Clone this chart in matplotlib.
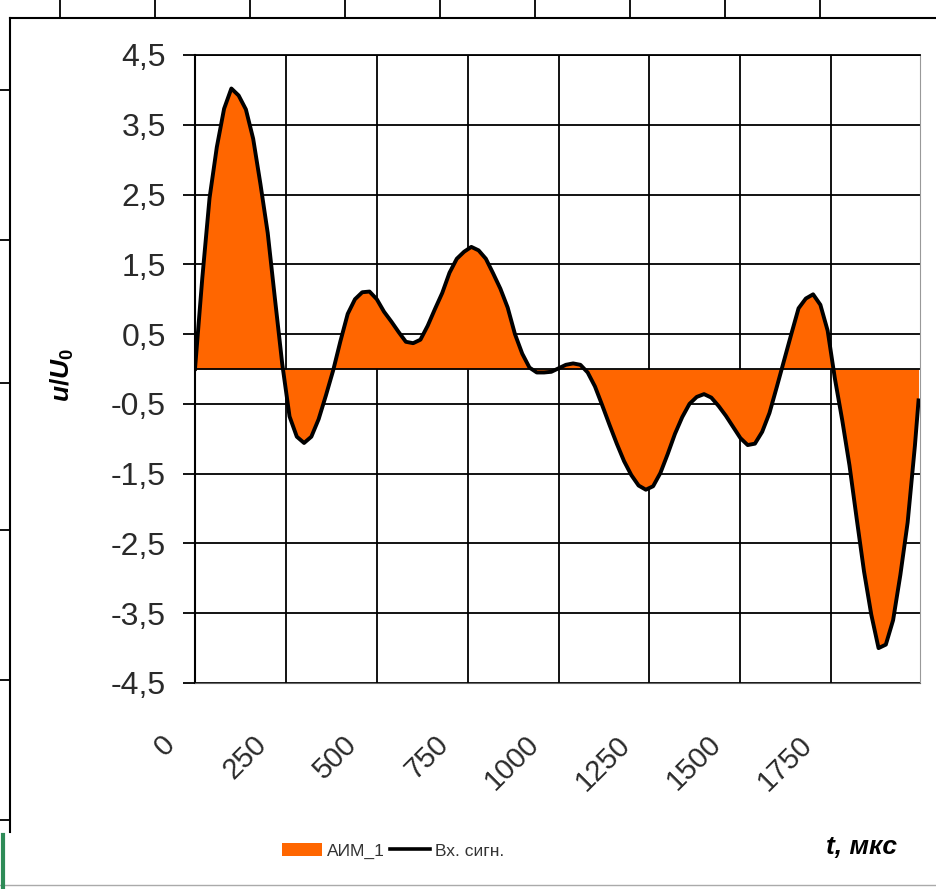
import numpy as np
import matplotlib
matplotlib.use("Agg")
import matplotlib.pyplot as plt
from matplotlib.patches import Patch
from matplotlib.lines import Line2D
import matplotlib.transforms as mtransforms

plt.rcParams['font.family'] = ['Liberation Sans', 'DejaVu Sans']
plt.rcParams['mathtext.fontset'] = 'custom'
plt.rcParams['mathtext.it'] = 'Liberation Sans:italic:bold'
plt.rcParams['mathtext.rm'] = 'Liberation Sans:bold'

# sample times, us (step 20 us, last sample at the right edge)
t_us = np.append(np.arange(0, 1981, 20), 1990)

# input signal u/U0
signal = [
    0.00, 1.30, 2.45, 3.18, 3.73, 4.02, 3.92, 3.72, 3.30, 2.65,
    1.95, 1.00, 0.07, -0.68, -0.97, -1.06, -0.97, -0.72, -0.38, -0.02,
    0.40, 0.79, 1.00, 1.10, 1.11, 1.00, 0.82, 0.68, 0.53, 0.39,
    0.37, 0.42, 0.62, 0.86, 1.09, 1.38, 1.58, 1.68, 1.75, 1.70,
    1.58, 1.37, 1.15, 0.88, 0.50, 0.22, 0.02, -0.05, -0.05, -0.04,
    0.01, 0.06, 0.08, 0.06, -0.05, -0.25, -0.52, -0.80, -1.07, -1.32,
    -1.52, -1.67, -1.73, -1.68, -1.49, -1.22, -0.93, -0.69, -0.50, -0.40,
    -0.36, -0.41, -0.53, -0.67, -0.83, -0.99, -1.09, -1.07, -0.90, -0.63,
    -0.26, 0.12, 0.50, 0.87, 1.01, 1.07, 0.92, 0.55, -0.14, -0.73,
    -1.38, -2.15, -2.90, -3.52, -4.00, -3.95, -3.60, -2.95, -2.20, -1.10,
    -0.45,
]

x_ticks = [0, 250, 500, 750, 1000, 1250, 1500, 1750]
x_labels = ['0', '250', '500', '750', '1000', '1250', '1500', '1750']
y_ticks = [-4.5, -3.5, -2.5, -1.5, -0.5, 0.5, 1.5, 2.5, 3.5, 4.5]
y_labels = ['-4,5', '-3,5', '-2,5', '-1,5', '-0,5', '0,5', '1,5', '2,5', '3,5', '4,5']

orange = '#FF6600'
txt = '#2a2a2a'

fig = plt.figure(figsize=(9.36, 8.89), dpi=100)
ax = fig.add_axes([195 / 936, 1 - 683 / 889, 725 / 936, 628 / 889])

# sampled (AIM) area and the input signal
ax.fill_between(t_us, signal, 0, interpolate=True, color=orange, lw=0, zorder=2)
ax.axhline(0, color='black', lw=1.3, zorder=2.5)
ax.plot(t_us, signal, color='black', lw=2.8, zorder=3, solid_joinstyle='round')

ax.set_xlim(0, 1994)
ax.set_ylim(-4.5, 4.5)
ax.set_axisbelow(True)
ax.grid(True, color='black', lw=1.3)

ax.set_yticks(y_ticks)
ax.set_yticklabels(y_labels, fontsize=23, color=txt)
ax.tick_params(axis='y', length=9, width=1.3, pad=12, color='black')

ax.set_xticks(x_ticks)
ax.set_xticklabels(x_labels, fontsize=21, color=txt, rotation=45, ha='right', va='top')
ax.tick_params(axis='x', length=0, pad=34)
shift = mtransforms.ScaledTranslation(-14 / 100, 0, fig.dpi_scale_trans)
for lab in ax.get_xticklabels():
    lab.set_transform(lab.get_transform() + shift)

ax.spines['left'].set_color('black')
ax.spines['left'].set_linewidth(1.5)
ax.spines['top'].set_color('black')
ax.spines['top'].set_linewidth(1.3)
ax.spines['bottom'].set_color('#666666')
ax.spines['right'].set_color('#999999')

fig.text(62 / 936, 1 - 375 / 889, r'$u/U_0$', rotation=90, fontsize=19,
         ha='center', va='center', color='black')
fig.text(861 / 936, 1 - 847 / 889, 't, мкс', fontsize=19, fontweight='bold',
         style='italic', ha='center', va='center', color='black')

handles = [Patch(facecolor=orange, edgecolor='none'),
           Line2D([0], [0], color='black', lw=2.6)]
fig.legend(handles, ['АИМ_1', 'Вх. сигн.'], loc='center', ncol=2,
           bbox_to_anchor=(393 / 936, 1 - 851 / 889), frameon=False,
           fontsize=12.5, handlelength=2.3, handletextpad=0.3,
           columnspacing=0.3, labelcolor='#333333')

# cropped frame of the surrounding sheet
def px(x, y):
    return x / 936, 1 - y / 889

fig.add_artist(Line2D(*zip(px(10, 18), px(936, 18)), color='black', lw=1.5))
for xt in [60, 155, 250, 345, 440, 535, 630, 725, 820]:
    fig.add_artist(Line2D(*zip(px(xt, 0), px(xt, 18)), color='black', lw=1.3))
fig.add_artist(Line2D(*zip(px(10, 18), px(10, 832)), color='black', lw=1.5))
for yt in [90, 240, 383, 530, 680, 820]:
    fig.add_artist(Line2D(*zip(px(0, yt), px(10, yt)), color='black', lw=1.3))
fig.add_artist(Line2D(*zip(px(0, 885), px(936, 885)), color='#aaaaaa', lw=1.0))
fig.add_artist(Line2D(*zip(px(3, 835), px(3, 889)), color='#2e8b57', lw=3))

fig.savefig('out.png', dpi=100)
